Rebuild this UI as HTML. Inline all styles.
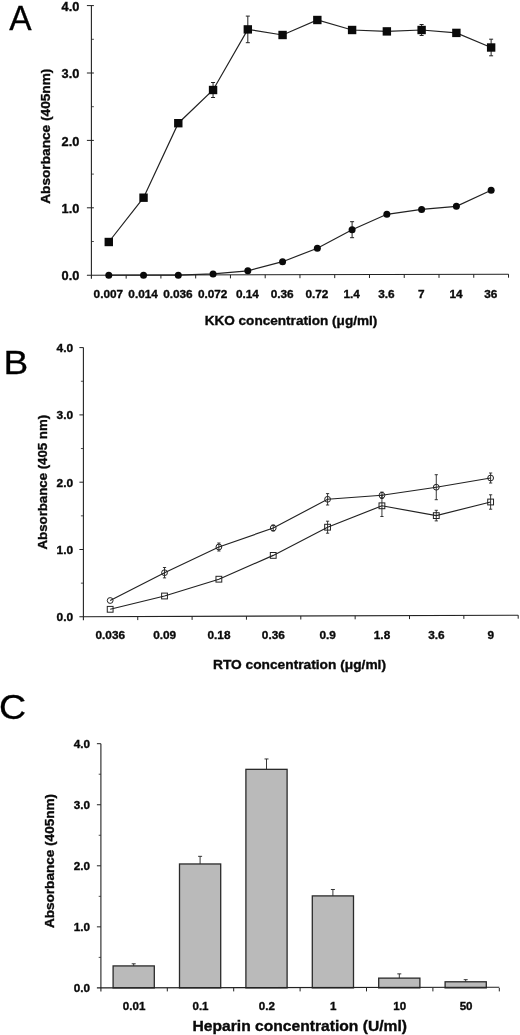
<!DOCTYPE html>
<html lang="en"><head><meta charset="utf-8"><title>Figure</title>
<style>html,body{margin:0;padding:0;background:#fff}svg{display:block}text{font-family:"Liberation Sans",Arial,Helvetica,sans-serif}</style>
</head><body>
<svg width="520" height="1035" viewBox="0 0 520 1035">
<rect width="520" height="1035" fill="#fff"/>
<g id="panelA">
<text transform="translate(9.3,29.6) scale(1.0,1.03)" font-size="33.5" fill="#000" stroke="#000" stroke-width="0.3">A</text>
<line x1="91.40" y1="5.60" x2="91.40" y2="278.70" stroke="#222" stroke-width="1.1"/>
<line x1="86.90" y1="275.20" x2="508.52" y2="274.20" stroke="#222" stroke-width="1.1"/>
<line x1="91.40" y1="241.50" x2="93.90" y2="241.50" stroke="#222" stroke-width="0.8"/>
<line x1="86.90" y1="207.80" x2="93.90" y2="207.80" stroke="#222" stroke-width="1"/>
<line x1="91.40" y1="174.10" x2="93.90" y2="174.10" stroke="#222" stroke-width="0.8"/>
<line x1="86.90" y1="140.40" x2="93.90" y2="140.40" stroke="#222" stroke-width="1"/>
<line x1="91.40" y1="106.70" x2="93.90" y2="106.70" stroke="#222" stroke-width="0.8"/>
<line x1="86.90" y1="73.00" x2="93.90" y2="73.00" stroke="#222" stroke-width="1"/>
<line x1="91.40" y1="39.30" x2="93.90" y2="39.30" stroke="#222" stroke-width="0.8"/>
<line x1="86.90" y1="5.60" x2="93.90" y2="5.60" stroke="#222" stroke-width="1"/>
<line x1="126.16" y1="275.12" x2="126.16" y2="278.62" stroke="#222" stroke-width="1"/>
<line x1="160.92" y1="275.03" x2="160.92" y2="278.53" stroke="#222" stroke-width="1"/>
<line x1="195.68" y1="274.95" x2="195.68" y2="278.45" stroke="#222" stroke-width="1"/>
<line x1="230.44" y1="274.87" x2="230.44" y2="278.37" stroke="#222" stroke-width="1"/>
<line x1="265.20" y1="274.78" x2="265.20" y2="278.28" stroke="#222" stroke-width="1"/>
<line x1="299.96" y1="274.70" x2="299.96" y2="278.20" stroke="#222" stroke-width="1"/>
<line x1="334.72" y1="274.62" x2="334.72" y2="278.12" stroke="#222" stroke-width="1"/>
<line x1="369.48" y1="274.53" x2="369.48" y2="278.03" stroke="#222" stroke-width="1"/>
<line x1="404.24" y1="274.45" x2="404.24" y2="277.95" stroke="#222" stroke-width="1"/>
<line x1="439.00" y1="274.37" x2="439.00" y2="277.87" stroke="#222" stroke-width="1"/>
<line x1="473.76" y1="274.28" x2="473.76" y2="277.78" stroke="#222" stroke-width="1"/>
<line x1="508.52" y1="274.20" x2="508.52" y2="277.70" stroke="#222" stroke-width="1"/>
<text x="79.4" y="280.3" font-size="12.8" text-anchor="end" font-weight="bold" stroke="#0a0a0a" stroke-width="0.35" fill="#0a0a0a">0.0</text>
<text x="79.4" y="212.89999999999998" font-size="12.8" text-anchor="end" font-weight="bold" stroke="#0a0a0a" stroke-width="0.35" fill="#0a0a0a">1.0</text>
<text x="79.4" y="145.49999999999997" font-size="12.8" text-anchor="end" font-weight="bold" stroke="#0a0a0a" stroke-width="0.35" fill="#0a0a0a">2.0</text>
<text x="79.4" y="78.09999999999997" font-size="12.8" text-anchor="end" font-weight="bold" stroke="#0a0a0a" stroke-width="0.35" fill="#0a0a0a">3.0</text>
<text x="79.4" y="10.699999999999966" font-size="12.8" text-anchor="end" font-weight="bold" stroke="#0a0a0a" stroke-width="0.35" fill="#0a0a0a">4.0</text>
<text x="108.38" y="298.4" font-size="11.8" text-anchor="middle" font-weight="bold" stroke="#0a0a0a" stroke-width="0.35" fill="#0a0a0a">0.007</text>
<text x="143.14000000000001" y="298.4" font-size="11.8" text-anchor="middle" font-weight="bold" stroke="#0a0a0a" stroke-width="0.35" fill="#0a0a0a">0.014</text>
<text x="177.9" y="298.4" font-size="11.8" text-anchor="middle" font-weight="bold" stroke="#0a0a0a" stroke-width="0.35" fill="#0a0a0a">0.036</text>
<text x="212.66" y="298.4" font-size="11.8" text-anchor="middle" font-weight="bold" stroke="#0a0a0a" stroke-width="0.35" fill="#0a0a0a">0.072</text>
<text x="247.42" y="298.4" font-size="11.8" text-anchor="middle" font-weight="bold" stroke="#0a0a0a" stroke-width="0.35" fill="#0a0a0a">0.14</text>
<text x="282.18" y="298.4" font-size="11.8" text-anchor="middle" font-weight="bold" stroke="#0a0a0a" stroke-width="0.35" fill="#0a0a0a">0.36</text>
<text x="316.94000000000005" y="298.4" font-size="11.8" text-anchor="middle" font-weight="bold" stroke="#0a0a0a" stroke-width="0.35" fill="#0a0a0a">0.72</text>
<text x="351.70000000000005" y="298.4" font-size="11.8" text-anchor="middle" font-weight="bold" stroke="#0a0a0a" stroke-width="0.35" fill="#0a0a0a">1.4</text>
<text x="386.46000000000004" y="298.4" font-size="11.8" text-anchor="middle" font-weight="bold" stroke="#0a0a0a" stroke-width="0.35" fill="#0a0a0a">3.6</text>
<text x="421.22" y="298.4" font-size="11.8" text-anchor="middle" font-weight="bold" stroke="#0a0a0a" stroke-width="0.35" fill="#0a0a0a">7</text>
<text x="455.98" y="298.4" font-size="11.8" text-anchor="middle" font-weight="bold" stroke="#0a0a0a" stroke-width="0.35" fill="#0a0a0a">14</text>
<text x="490.74" y="298.4" font-size="11.8" text-anchor="middle" font-weight="bold" stroke="#0a0a0a" stroke-width="0.35" fill="#0a0a0a">36</text>
<text x="291" y="325.4" font-size="13.3" text-anchor="middle" font-weight="bold" textLength="172.7" lengthAdjust="spacingAndGlyphs" stroke="#0a0a0a" stroke-width="0.35" fill="#0a0a0a">KKO concentration (μg/ml)</text>
<text x="50" y="136.2" font-size="13.4" text-anchor="middle" font-weight="bold" textLength="135.2" lengthAdjust="spacingAndGlyphs" transform="rotate(-90 50 136.2)" stroke="#0a0a0a" stroke-width="0.35" fill="#0a0a0a">Absorbance (405nm)</text>
<polyline fill="none" stroke="#222" stroke-width="1.2" points="108.78,242.00 143.54,197.70 178.30,123.20 213.06,90.00 247.82,29.40 282.58,35.00 317.34,20.00 352.10,30.00 386.86,31.40 421.62,30.00 456.38,32.90 491.14,47.50"/>
<polyline fill="none" stroke="#222" stroke-width="1.2" points="108.78,275.20 143.54,275.20 178.30,275.20 213.06,273.90 247.82,270.80 282.58,261.70 317.34,248.20 352.10,229.70 386.86,214.30 421.62,209.40 456.38,206.30 491.14,190.30"/>
<rect x="104.58" y="237.80" width="8.4" height="8.4" fill="#0a0a0a"/>
<rect x="139.34" y="193.50" width="8.4" height="8.4" fill="#0a0a0a"/>
<rect x="174.10" y="119.00" width="8.4" height="8.4" fill="#0a0a0a"/>
<line x1="213.06" y1="82.50" x2="213.06" y2="97.50" stroke="#222" stroke-width="1"/>
<line x1="211.06" y1="82.50" x2="215.06" y2="82.50" stroke="#222" stroke-width="1"/>
<line x1="211.06" y1="97.50" x2="215.06" y2="97.50" stroke="#222" stroke-width="1"/>
<rect x="208.86" y="85.80" width="8.4" height="8.4" fill="#0a0a0a"/>
<line x1="247.82" y1="16.10" x2="247.82" y2="42.70" stroke="#222" stroke-width="1"/>
<line x1="245.82" y1="16.10" x2="249.82" y2="16.10" stroke="#222" stroke-width="1"/>
<line x1="245.82" y1="42.70" x2="249.82" y2="42.70" stroke="#222" stroke-width="1"/>
<rect x="243.62" y="25.20" width="8.4" height="8.4" fill="#0a0a0a"/>
<rect x="278.38" y="30.80" width="8.4" height="8.4" fill="#0a0a0a"/>
<line x1="317.34" y1="17.00" x2="317.34" y2="23.00" stroke="#222" stroke-width="1"/>
<line x1="315.34" y1="17.00" x2="319.34" y2="17.00" stroke="#222" stroke-width="1"/>
<line x1="315.34" y1="23.00" x2="319.34" y2="23.00" stroke="#222" stroke-width="1"/>
<rect x="313.14" y="15.80" width="8.4" height="8.4" fill="#0a0a0a"/>
<rect x="347.90" y="25.80" width="8.4" height="8.4" fill="#0a0a0a"/>
<line x1="386.86" y1="28.40" x2="386.86" y2="34.40" stroke="#222" stroke-width="1"/>
<line x1="384.86" y1="28.40" x2="388.86" y2="28.40" stroke="#222" stroke-width="1"/>
<line x1="384.86" y1="34.40" x2="388.86" y2="34.40" stroke="#222" stroke-width="1"/>
<rect x="382.66" y="27.20" width="8.4" height="8.4" fill="#0a0a0a"/>
<line x1="421.62" y1="24.50" x2="421.62" y2="35.50" stroke="#222" stroke-width="1"/>
<line x1="419.62" y1="24.50" x2="423.62" y2="24.50" stroke="#222" stroke-width="1"/>
<line x1="419.62" y1="35.50" x2="423.62" y2="35.50" stroke="#222" stroke-width="1"/>
<rect x="417.42" y="25.80" width="8.4" height="8.4" fill="#0a0a0a"/>
<rect x="452.18" y="28.70" width="8.4" height="8.4" fill="#0a0a0a"/>
<line x1="491.14" y1="39.20" x2="491.14" y2="55.80" stroke="#222" stroke-width="1"/>
<line x1="489.14" y1="39.20" x2="493.14" y2="39.20" stroke="#222" stroke-width="1"/>
<line x1="489.14" y1="55.80" x2="493.14" y2="55.80" stroke="#222" stroke-width="1"/>
<rect x="486.94" y="43.30" width="8.4" height="8.4" fill="#0a0a0a"/>
<circle cx="108.78" cy="275.20" r="3.5" fill="#0a0a0a"/>
<circle cx="143.54" cy="275.20" r="3.5" fill="#0a0a0a"/>
<circle cx="178.30" cy="275.20" r="3.5" fill="#0a0a0a"/>
<circle cx="213.06" cy="273.90" r="3.5" fill="#0a0a0a"/>
<circle cx="247.82" cy="270.80" r="3.5" fill="#0a0a0a"/>
<circle cx="282.58" cy="261.70" r="3.5" fill="#0a0a0a"/>
<circle cx="317.34" cy="248.20" r="3.5" fill="#0a0a0a"/>
<line x1="352.10" y1="221.70" x2="352.10" y2="237.70" stroke="#222" stroke-width="1"/>
<line x1="350.10" y1="221.70" x2="354.10" y2="221.70" stroke="#222" stroke-width="1"/>
<line x1="350.10" y1="237.70" x2="354.10" y2="237.70" stroke="#222" stroke-width="1"/>
<circle cx="352.10" cy="229.70" r="3.5" fill="#0a0a0a"/>
<circle cx="386.86" cy="214.30" r="3.5" fill="#0a0a0a"/>
<circle cx="421.62" cy="209.40" r="3.5" fill="#0a0a0a"/>
<circle cx="456.38" cy="206.30" r="3.5" fill="#0a0a0a"/>
<circle cx="491.14" cy="190.30" r="3.5" fill="#0a0a0a"/>
</g>
<g id="panelB">
<text transform="translate(3.6,374.2) scale(1.14,1.0)" font-size="32.5" fill="#000" stroke="#000" stroke-width="0.3">B</text>
<line x1="83.40" y1="347.60" x2="83.40" y2="620.30" stroke="#222" stroke-width="1.1"/>
<line x1="79.40" y1="616.80" x2="518.20" y2="615.20" stroke="#222" stroke-width="1.1"/>
<line x1="80.90" y1="583.15" x2="83.40" y2="583.15" stroke="#222" stroke-width="0.8"/>
<line x1="79.40" y1="549.50" x2="83.40" y2="549.50" stroke="#222" stroke-width="1"/>
<line x1="80.90" y1="515.85" x2="83.40" y2="515.85" stroke="#222" stroke-width="0.8"/>
<line x1="79.40" y1="482.20" x2="83.40" y2="482.20" stroke="#222" stroke-width="1"/>
<line x1="80.90" y1="448.55" x2="83.40" y2="448.55" stroke="#222" stroke-width="0.8"/>
<line x1="79.40" y1="414.90" x2="83.40" y2="414.90" stroke="#222" stroke-width="1"/>
<line x1="80.90" y1="381.25" x2="83.40" y2="381.25" stroke="#222" stroke-width="0.8"/>
<line x1="79.40" y1="347.60" x2="83.40" y2="347.60" stroke="#222" stroke-width="1"/>
<line x1="137.75" y1="616.60" x2="137.75" y2="620.10" stroke="#222" stroke-width="1"/>
<line x1="192.10" y1="616.40" x2="192.10" y2="619.90" stroke="#222" stroke-width="1"/>
<line x1="246.45" y1="616.20" x2="246.45" y2="619.70" stroke="#222" stroke-width="1"/>
<line x1="300.80" y1="616.00" x2="300.80" y2="619.50" stroke="#222" stroke-width="1"/>
<line x1="355.15" y1="615.80" x2="355.15" y2="619.30" stroke="#222" stroke-width="1"/>
<line x1="409.50" y1="615.60" x2="409.50" y2="619.10" stroke="#222" stroke-width="1"/>
<line x1="463.85" y1="615.40" x2="463.85" y2="618.90" stroke="#222" stroke-width="1"/>
<line x1="518.20" y1="615.20" x2="518.20" y2="618.70" stroke="#222" stroke-width="1"/>
<text x="73.1" y="621.3" font-size="11.4" text-anchor="end" font-weight="bold" textLength="16.6" lengthAdjust="spacingAndGlyphs" stroke="#0a0a0a" stroke-width="0.35" fill="#0a0a0a">0.0</text>
<text x="73.1" y="554.0" font-size="11.4" text-anchor="end" font-weight="bold" textLength="16.6" lengthAdjust="spacingAndGlyphs" stroke="#0a0a0a" stroke-width="0.35" fill="#0a0a0a">1.0</text>
<text x="73.1" y="486.69999999999993" font-size="11.4" text-anchor="end" font-weight="bold" textLength="16.6" lengthAdjust="spacingAndGlyphs" stroke="#0a0a0a" stroke-width="0.35" fill="#0a0a0a">2.0</text>
<text x="73.1" y="419.4" font-size="11.4" text-anchor="end" font-weight="bold" textLength="16.6" lengthAdjust="spacingAndGlyphs" stroke="#0a0a0a" stroke-width="0.35" fill="#0a0a0a">3.0</text>
<text x="73.1" y="352.09999999999997" font-size="11.4" text-anchor="end" font-weight="bold" textLength="16.6" lengthAdjust="spacingAndGlyphs" stroke="#0a0a0a" stroke-width="0.35" fill="#0a0a0a">4.0</text>
<text x="110.275" y="639" font-size="11.8" text-anchor="middle" font-weight="bold" stroke="#0a0a0a" stroke-width="0.35" fill="#0a0a0a">0.036</text>
<text x="164.625" y="639" font-size="11.8" text-anchor="middle" font-weight="bold" stroke="#0a0a0a" stroke-width="0.35" fill="#0a0a0a">0.09</text>
<text x="218.975" y="639" font-size="11.8" text-anchor="middle" font-weight="bold" stroke="#0a0a0a" stroke-width="0.35" fill="#0a0a0a">0.18</text>
<text x="273.325" y="639" font-size="11.8" text-anchor="middle" font-weight="bold" stroke="#0a0a0a" stroke-width="0.35" fill="#0a0a0a">0.36</text>
<text x="327.675" y="639" font-size="11.8" text-anchor="middle" font-weight="bold" stroke="#0a0a0a" stroke-width="0.35" fill="#0a0a0a">0.9</text>
<text x="382.02500000000003" y="639" font-size="11.8" text-anchor="middle" font-weight="bold" stroke="#0a0a0a" stroke-width="0.35" fill="#0a0a0a">1.8</text>
<text x="436.37500000000006" y="639" font-size="11.8" text-anchor="middle" font-weight="bold" stroke="#0a0a0a" stroke-width="0.35" fill="#0a0a0a">3.6</text>
<text x="490.72499999999997" y="639" font-size="11.8" text-anchor="middle" font-weight="bold" stroke="#0a0a0a" stroke-width="0.35" fill="#0a0a0a">9</text>
<text x="299.5" y="669.3" font-size="13.3" text-anchor="middle" font-weight="bold" textLength="173" lengthAdjust="spacingAndGlyphs" stroke="#0a0a0a" stroke-width="0.35" fill="#0a0a0a">RTO concentration (μg/ml)</text>
<text x="46.8" y="482.2" font-size="13.1" text-anchor="middle" font-weight="bold" textLength="134.5" lengthAdjust="spacingAndGlyphs" transform="rotate(-90 46.8 482.2)" stroke="#0a0a0a" stroke-width="0.35" fill="#0a0a0a">Absorbance (405 nm)</text>
<circle cx="110.17" cy="600.50" r="2.9" fill="#fff" stroke="#222" stroke-width="1"/>
<circle cx="164.53" cy="572.70" r="2.9" fill="#fff" stroke="#222" stroke-width="1"/>
<line x1="164.53" y1="567.50" x2="164.53" y2="577.90" stroke="#222" stroke-width="0.9"/>
<line x1="162.93" y1="567.50" x2="166.12" y2="567.50" stroke="#222" stroke-width="0.9"/>
<line x1="162.93" y1="577.90" x2="166.12" y2="577.90" stroke="#222" stroke-width="0.9"/>
<circle cx="218.88" cy="547.00" r="2.9" fill="#fff" stroke="#222" stroke-width="1"/>
<line x1="218.88" y1="543.00" x2="218.88" y2="551.00" stroke="#222" stroke-width="0.9"/>
<line x1="217.28" y1="543.00" x2="220.47" y2="543.00" stroke="#222" stroke-width="0.9"/>
<line x1="217.28" y1="551.00" x2="220.47" y2="551.00" stroke="#222" stroke-width="0.9"/>
<circle cx="273.23" cy="528.00" r="2.9" fill="#fff" stroke="#222" stroke-width="1"/>
<line x1="273.23" y1="525.00" x2="273.23" y2="531.00" stroke="#222" stroke-width="0.9"/>
<line x1="271.62" y1="525.00" x2="274.83" y2="525.00" stroke="#222" stroke-width="0.9"/>
<line x1="271.62" y1="531.00" x2="274.83" y2="531.00" stroke="#222" stroke-width="0.9"/>
<circle cx="327.58" cy="499.30" r="2.9" fill="#fff" stroke="#222" stroke-width="1"/>
<line x1="327.58" y1="493.60" x2="327.58" y2="505.00" stroke="#222" stroke-width="0.9"/>
<line x1="325.98" y1="493.60" x2="329.18" y2="493.60" stroke="#222" stroke-width="0.9"/>
<line x1="325.98" y1="505.00" x2="329.18" y2="505.00" stroke="#222" stroke-width="0.9"/>
<circle cx="381.93" cy="495.30" r="2.9" fill="#fff" stroke="#222" stroke-width="1"/>
<line x1="381.93" y1="492.10" x2="381.93" y2="498.50" stroke="#222" stroke-width="0.9"/>
<line x1="380.33" y1="492.10" x2="383.53" y2="492.10" stroke="#222" stroke-width="0.9"/>
<line x1="380.33" y1="498.50" x2="383.53" y2="498.50" stroke="#222" stroke-width="0.9"/>
<circle cx="436.28" cy="487.20" r="2.9" fill="#fff" stroke="#222" stroke-width="1"/>
<line x1="436.28" y1="474.70" x2="436.28" y2="499.70" stroke="#222" stroke-width="0.9"/>
<line x1="434.68" y1="474.70" x2="437.88" y2="474.70" stroke="#222" stroke-width="0.9"/>
<line x1="434.68" y1="499.70" x2="437.88" y2="499.70" stroke="#222" stroke-width="0.9"/>
<circle cx="490.62" cy="478.00" r="2.9" fill="#fff" stroke="#222" stroke-width="1"/>
<line x1="490.62" y1="473.00" x2="490.62" y2="483.00" stroke="#222" stroke-width="0.9"/>
<line x1="489.02" y1="473.00" x2="492.23" y2="473.00" stroke="#222" stroke-width="0.9"/>
<line x1="489.02" y1="483.00" x2="492.23" y2="483.00" stroke="#222" stroke-width="0.9"/>
<rect x="107.27" y="606.40" width="5.8" height="5.8" fill="#fff" stroke="#222" stroke-width="1"/>
<rect x="161.62" y="593.10" width="5.8" height="5.8" fill="#fff" stroke="#222" stroke-width="1"/>
<rect x="215.97" y="576.30" width="5.8" height="5.8" fill="#fff" stroke="#222" stroke-width="1"/>
<rect x="270.33" y="552.50" width="5.8" height="5.8" fill="#fff" stroke="#222" stroke-width="1"/>
<rect x="324.68" y="524.30" width="5.8" height="5.8" fill="#fff" stroke="#222" stroke-width="1"/>
<line x1="327.58" y1="521.20" x2="327.58" y2="533.20" stroke="#222" stroke-width="0.9"/>
<line x1="325.98" y1="521.20" x2="329.18" y2="521.20" stroke="#222" stroke-width="0.9"/>
<line x1="325.98" y1="533.20" x2="329.18" y2="533.20" stroke="#222" stroke-width="0.9"/>
<rect x="379.03" y="502.90" width="5.8" height="5.8" fill="#fff" stroke="#222" stroke-width="1"/>
<line x1="381.93" y1="495.10" x2="381.93" y2="516.50" stroke="#222" stroke-width="0.9"/>
<line x1="380.33" y1="495.10" x2="383.53" y2="495.10" stroke="#222" stroke-width="0.9"/>
<line x1="380.33" y1="516.50" x2="383.53" y2="516.50" stroke="#222" stroke-width="0.9"/>
<rect x="433.38" y="512.70" width="5.8" height="5.8" fill="#fff" stroke="#222" stroke-width="1"/>
<line x1="436.28" y1="510.30" x2="436.28" y2="520.90" stroke="#222" stroke-width="0.9"/>
<line x1="434.68" y1="510.30" x2="437.88" y2="510.30" stroke="#222" stroke-width="0.9"/>
<line x1="434.68" y1="520.90" x2="437.88" y2="520.90" stroke="#222" stroke-width="0.9"/>
<rect x="487.73" y="499.10" width="5.8" height="5.8" fill="#fff" stroke="#222" stroke-width="1"/>
<line x1="490.62" y1="494.80" x2="490.62" y2="509.20" stroke="#222" stroke-width="0.9"/>
<line x1="489.02" y1="494.80" x2="492.23" y2="494.80" stroke="#222" stroke-width="0.9"/>
<line x1="489.02" y1="509.20" x2="492.23" y2="509.20" stroke="#222" stroke-width="0.9"/>
<polyline fill="none" stroke="#222" stroke-width="1.15" points="110.17,600.50 164.53,572.70 218.88,547.00 273.23,528.00 327.58,499.30 381.93,495.30 436.28,487.20 490.62,478.00"/>
<polyline fill="none" stroke="#222" stroke-width="1.15" points="110.17,609.30 164.53,596.00 218.88,579.20 273.23,555.40 327.58,527.20 381.93,505.80 436.28,515.60 490.62,502.00"/>
</g>
<g id="panelC">
<text transform="translate(-0.9,719) scale(1.05,1.0)" font-size="35.8" fill="#000" stroke="#000" stroke-width="0.3">C</text>
<line x1="133.70" y1="965.92" x2="133.70" y2="963.79" stroke="#222" stroke-width="0.9"/>
<line x1="131.70" y1="963.79" x2="135.70" y2="963.79" stroke="#222" stroke-width="0.9"/>
<rect x="113.10" y="965.92" width="41.2" height="21.98" fill="#bababa" stroke="#2a2a2a" stroke-width="1.3"/>
<line x1="200.10" y1="863.97" x2="200.10" y2="856.34" stroke="#222" stroke-width="0.9"/>
<line x1="198.10" y1="856.34" x2="202.10" y2="856.34" stroke="#222" stroke-width="0.9"/>
<rect x="179.50" y="863.97" width="41.2" height="123.93" fill="#bababa" stroke="#2a2a2a" stroke-width="1.3"/>
<line x1="266.50" y1="769.34" x2="266.50" y2="758.96" stroke="#222" stroke-width="0.9"/>
<line x1="264.50" y1="758.96" x2="268.50" y2="758.96" stroke="#222" stroke-width="0.9"/>
<rect x="245.90" y="769.34" width="41.2" height="218.56" fill="#bababa" stroke="#2a2a2a" stroke-width="1.3"/>
<line x1="332.90" y1="895.90" x2="332.90" y2="889.49" stroke="#222" stroke-width="0.9"/>
<line x1="330.90" y1="889.49" x2="334.90" y2="889.49" stroke="#222" stroke-width="0.9"/>
<rect x="312.30" y="895.90" width="41.2" height="92.00" fill="#bababa" stroke="#2a2a2a" stroke-width="1.3"/>
<line x1="399.30" y1="978.13" x2="399.30" y2="973.86" stroke="#222" stroke-width="0.9"/>
<line x1="397.30" y1="973.86" x2="401.30" y2="973.86" stroke="#222" stroke-width="0.9"/>
<rect x="378.70" y="978.13" width="41.2" height="9.77" fill="#bababa" stroke="#2a2a2a" stroke-width="1.3"/>
<line x1="465.70" y1="981.79" x2="465.70" y2="979.66" stroke="#222" stroke-width="0.9"/>
<line x1="463.70" y1="979.66" x2="467.70" y2="979.66" stroke="#222" stroke-width="0.9"/>
<rect x="445.10" y="981.79" width="41.2" height="6.11" fill="#bababa" stroke="#2a2a2a" stroke-width="1.3"/>
<line x1="100.90" y1="743.70" x2="100.90" y2="991.40" stroke="#222" stroke-width="1.1"/>
<line x1="96.90" y1="987.90" x2="499.30" y2="987.30" stroke="#222" stroke-width="1.1"/>
<line x1="98.70" y1="957.38" x2="100.90" y2="957.38" stroke="#222" stroke-width="0.8"/>
<line x1="96.90" y1="926.85" x2="100.90" y2="926.85" stroke="#222" stroke-width="1"/>
<line x1="98.70" y1="896.33" x2="100.90" y2="896.33" stroke="#222" stroke-width="0.8"/>
<line x1="96.90" y1="865.80" x2="100.90" y2="865.80" stroke="#222" stroke-width="1"/>
<line x1="98.70" y1="835.27" x2="100.90" y2="835.27" stroke="#222" stroke-width="0.8"/>
<line x1="96.90" y1="804.75" x2="100.90" y2="804.75" stroke="#222" stroke-width="1"/>
<line x1="98.70" y1="774.23" x2="100.90" y2="774.23" stroke="#222" stroke-width="0.8"/>
<line x1="96.90" y1="743.70" x2="100.90" y2="743.70" stroke="#222" stroke-width="1"/>
<line x1="167.30" y1="987.90" x2="167.30" y2="991.40" stroke="#222" stroke-width="1"/>
<line x1="233.70" y1="987.90" x2="233.70" y2="991.40" stroke="#222" stroke-width="1"/>
<line x1="300.10" y1="987.90" x2="300.10" y2="991.40" stroke="#222" stroke-width="1"/>
<line x1="366.50" y1="987.90" x2="366.50" y2="991.40" stroke="#222" stroke-width="1"/>
<line x1="432.90" y1="987.90" x2="432.90" y2="991.40" stroke="#222" stroke-width="1"/>
<line x1="499.30" y1="987.90" x2="499.30" y2="991.40" stroke="#222" stroke-width="1"/>
<text x="90.1" y="992.4" font-size="11.4" text-anchor="end" font-weight="bold" textLength="16.3" lengthAdjust="spacingAndGlyphs" stroke="#0a0a0a" stroke-width="0.35" fill="#0a0a0a">0.0</text>
<text x="90.1" y="931.35" font-size="11.4" text-anchor="end" font-weight="bold" textLength="16.3" lengthAdjust="spacingAndGlyphs" stroke="#0a0a0a" stroke-width="0.35" fill="#0a0a0a">1.0</text>
<text x="90.1" y="870.3" font-size="11.4" text-anchor="end" font-weight="bold" textLength="16.3" lengthAdjust="spacingAndGlyphs" stroke="#0a0a0a" stroke-width="0.35" fill="#0a0a0a">2.0</text>
<text x="90.1" y="809.25" font-size="11.4" text-anchor="end" font-weight="bold" textLength="16.3" lengthAdjust="spacingAndGlyphs" stroke="#0a0a0a" stroke-width="0.35" fill="#0a0a0a">3.0</text>
<text x="90.1" y="748.2" font-size="11.4" text-anchor="end" font-weight="bold" textLength="16.3" lengthAdjust="spacingAndGlyphs" stroke="#0a0a0a" stroke-width="0.35" fill="#0a0a0a">4.0</text>
<text x="134.10000000000002" y="1010.3" font-size="11.6" text-anchor="middle" font-weight="bold" stroke="#0a0a0a" stroke-width="0.35" fill="#0a0a0a">0.01</text>
<text x="200.5" y="1010.3" font-size="11.6" text-anchor="middle" font-weight="bold" stroke="#0a0a0a" stroke-width="0.35" fill="#0a0a0a">0.1</text>
<text x="266.9" y="1010.3" font-size="11.6" text-anchor="middle" font-weight="bold" stroke="#0a0a0a" stroke-width="0.35" fill="#0a0a0a">0.2</text>
<text x="333.30000000000007" y="1010.3" font-size="11.6" text-anchor="middle" font-weight="bold" stroke="#0a0a0a" stroke-width="0.35" fill="#0a0a0a">1</text>
<text x="399.70000000000005" y="1010.3" font-size="11.6" text-anchor="middle" font-weight="bold" stroke="#0a0a0a" stroke-width="0.35" fill="#0a0a0a">10</text>
<text x="466.1" y="1010.3" font-size="11.6" text-anchor="middle" font-weight="bold" stroke="#0a0a0a" stroke-width="0.35" fill="#0a0a0a">50</text>
<text x="299.8" y="1030.7" font-size="14.8" text-anchor="middle" font-weight="bold" textLength="214.5" lengthAdjust="spacingAndGlyphs" stroke="#0a0a0a" stroke-width="0.35" fill="#0a0a0a">Heparin concentration (U/ml)</text>
<text x="53.5" y="861.0" font-size="13.3" text-anchor="middle" font-weight="bold" textLength="134.2" lengthAdjust="spacingAndGlyphs" transform="rotate(-90 53.5 861.0)" stroke="#0a0a0a" stroke-width="0.35" fill="#0a0a0a">Absorbance (405nm)</text>
</g>
</svg>
</body></html>
